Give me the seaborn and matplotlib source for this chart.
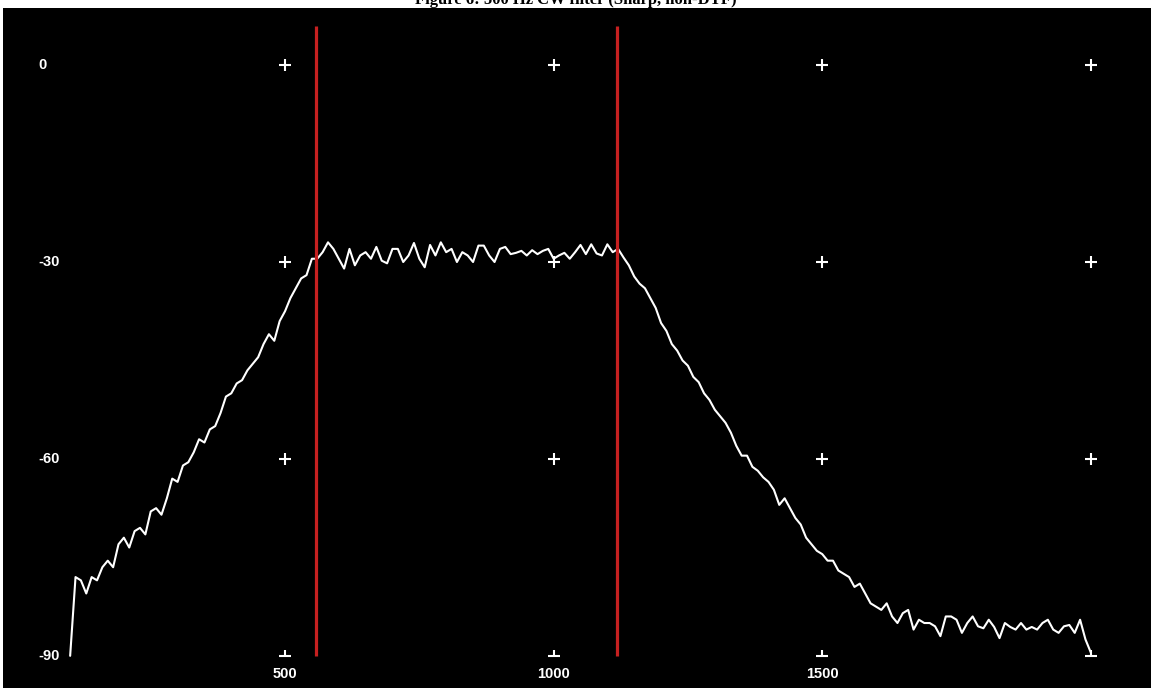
import numpy as np
import matplotlib
matplotlib.use("Agg")
import matplotlib.pyplot as plt
from matplotlib.path import Path
import seaborn as sns

# ---------------- data ----------------
title_text = "Figure 6: 500 Hz CW filter (Sharp, non-DTF)"

# measured response, 10 Hz steps from 100 Hz to 2000 Hz
freq_start, freq_stop, freq_step = 100, 2000, 10

db_lower_skirt = [  # 100 .. 560 Hz
    -90, -78, -78.5, -80.5, -78, -78.5, -76.5, -75.5, -76.5, -73,
    -72, -73.5, -71, -70.5, -71.5, -68, -67.5, -68.5, -66, -63,
    -63.5, -61, -60.5, -59, -57, -57.5, -55.5, -55, -53, -50.5,
    -50, -48.5, -48, -46.5, -45.5, -44.5, -42.5, -41, -42, -39,
    -37.5, -35.5, -34, -32.5, -32, -29.5, -29.5,
]
db_passband = [  # 570 .. 1160 Hz
    -28.5, -27, -28, -29.5, -31, -28, -30.5, -29, -28.5, -29.5,
    -27.7, -29.8, -30.2, -28, -28, -30, -29, -27.1, -29.5, -30.8,
    -27.4, -29, -27, -28.5, -28, -30, -28.5, -29, -30, -27.5,
    -27.5, -29, -30, -28, -27.7, -28.8, -28.6, -28.3, -29, -28.2,
    -28.8, -28.3, -28, -29.5, -29, -28.6, -29.5, -28.5, -27.4, -28.8,
    -27.3, -28.7, -29, -27.3, -28.5, -28, -29.3, -30.5, -32.2, -33.3,
]
db_upper_skirt = [  # 1170 .. 1600 Hz
    -34, -35.5, -37, -39.3, -40.5, -42.5, -43.5, -45, -45.8, -47.5,
    -48.3, -50, -51, -52.5, -53.5, -54.5, -56, -58, -59.5, -59.5,
    -61.2, -61.8, -62.8, -63.5, -64.7, -67, -66, -67.5, -69, -70,
    -72, -73, -74, -74.5, -75.5, -75.5, -77, -77.5, -78, -79.5,
    -79, -80.5, -82, -82.5,
]
db_floor = [  # 1610 .. 2000 Hz
    -83, -82, -84, -85, -83.5, -83, -86, -84.5, -85, -85,
    -85.5, -87, -84, -84, -84.5, -86.5, -85, -84, -85.5, -85.8,
    -84.5, -85.6, -87.3, -85, -85.6, -86, -85, -86, -85.6, -86,
    -85, -84.5, -86, -86.5, -85.5, -85.3, -86.5, -84.5, -87.5, -89.5,
]

cutoffs_hz = [558, 1118]          # red marker lines
cutoff_top_db = 6

grid_x = [500, 1000, 1500, 2000]  # cross markers
grid_y = [0, -30, -60]
floor_y = -90
x_tick_labels = ["500", "1000", "1500"]
y_tick_values = [0, -30, -60, -90]
y_tick_labels = ["0", "-30", "-60", "-90"]

db = np.array(db_lower_skirt + db_passband + db_upper_skirt + db_floor, dtype=float)
freq = np.arange(freq_start, freq_start + freq_step * len(db), freq_step)

# ---------------- figure ----------------
sns.set_style("dark", {"axes.facecolor": "black"})
W, H = 1151, 688
fig = plt.figure(figsize=(W / 100, H / 100), dpi=100, facecolor="white")
ax = fig.add_axes([3 / W, 0, (W - 3) / W, (H - 8) / H])
ax.set_facecolor("black")

sns.lineplot(x=freq, y=db, ax=ax, color="white", linewidth=1.5, estimator=None, sort=False)

for c in cutoffs_hz:
    ax.vlines(c, floor_y, cutoff_top_db, color="#c62020", linewidth=2.3, zorder=3)

gx, gy = np.meshgrid(grid_x, grid_y)
ax.plot(gx.ravel(), gy.ravel(), linestyle="none", marker="+", color="white",
        markersize=9, markeredgewidth=1.5, zorder=4)

perp = Path([(-1, 0), (1, 0), (0, 0), (0, 1)],
            [Path.MOVETO, Path.LINETO, Path.MOVETO, Path.LINETO])
ax.plot(grid_x, [floor_y] * len(grid_x), linestyle="none", marker=perp, color="white",
        markersize=9, markeredgewidth=1.5, zorder=4)

label_font = dict(color="white", fontsize=10.5, fontweight="bold", family=["Liberation Sans", "DejaVu Sans"])
for xv, lab in zip(grid_x, x_tick_labels):
    ax.text(xv, floor_y - 2.75, lab, ha="center", va="center", **label_font)
trans = matplotlib.transforms.blended_transform_factory(ax.transAxes, ax.transData)
for yv, lab in zip(y_tick_values, y_tick_labels):
    ax.text(0.0305, yv, lab, ha="left", va="center", transform=trans, **label_font)

ax.set_xlim(-25, 2112)
ax.set_ylim(-94.9, 8.7)
ax.set_xticks([])
ax.set_yticks([])
ax.set_xlabel("")
ax.set_ylabel("")
ax.grid(False)
for s in ax.spines.values():
    s.set_visible(False)

fig.text(0.5, 1 - 4 / H, title_text, ha="center", va="baseline", fontsize=12,
         fontweight="bold", family=["Liberation Serif", "DejaVu Serif"], color="black")

fig.savefig("out.png", dpi=100, facecolor="white")
